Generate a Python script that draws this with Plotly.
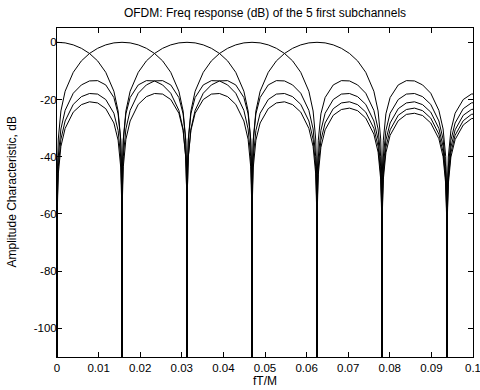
import plotly.graph_objects as go

# Subchannel centre frequencies (fT/M) read from the main-lobe peaks
subchannel_centers = [0.0, 0.015625, 0.03125, 0.046875, 0.0625]
subchannel_spacing = 0.015625

# Response of one subchannel vs. distance from its centre (in subchannel spacings),
# read from the curves (nulls drop below the axis floor)
offset_bins = [
    0, 0.125, 0.25, 0.375, 0.5, 0.625, 0.75, 0.875, 0.94, 0.98, 0.995,
    1.0, 1.005, 1.02, 1.06, 1.125, 1.25, 1.375, 1.5, 1.625, 1.75, 1.875, 1.94, 1.98, 1.995,
    2.0, 2.005, 2.02, 2.06, 2.125, 2.25, 2.375, 2.5, 2.625, 2.75, 2.875, 2.94, 2.98, 2.995,
    3.0, 3.005, 3.02, 3.06, 3.125, 3.25, 3.375, 3.5, 3.625, 3.75, 3.875, 3.94, 3.98, 3.995,
    4.0, 4.005, 4.02, 4.06, 4.125, 4.25, 4.375, 4.5, 4.625, 4.75, 4.875, 4.94, 4.98, 4.995,
    5.0, 5.005, 5.02, 5.06, 5.125, 5.25, 5.375, 5.5, 5.625, 5.75, 5.875, 5.94, 5.98, 5.995,
    6.0, 6.005, 6.02, 6.06, 6.125, 6.25, 6.375, 6.5,
]
response_db = [
    0.0, -0.2, -0.9, -2.1, -3.9, -6.5, -10.5, -17.1, -24.0, -33.8, -46.0,
    -300, -46.1, -34.2, -25.0, -19.3, -14.9, -13.4, -13.5, -14.9, -17.8, -23.8, -30.3, -39.9, -52.0,
    -300, -52.1, -40.1, -30.8, -24.8, -20.0, -18.1, -17.9, -19.0, -21.7, -27.5, -33.9, -43.5, -55.6,
    -300, -55.6, -43.6, -34.2, -28.2, -23.2, -21.2, -20.8, -21.8, -24.4, -30.1, -36.4, -46.0, -58.1,
    -300, -58.1, -46.1, -36.7, -30.6, -25.5, -23.5, -23.0, -23.9, -26.5, -32.1, -38.4, -47.9, -60.0,
    -300, -60.0, -48.0, -38.6, -32.5, -27.4, -25.2, -24.8, -25.6, -28.2, -33.7, -40.0, -49.5, -61.6,
    -300, -61.6, -49.6, -40.1, -34.0, -28.9, -26.7, -26.2,
]

x_tick_vals = [0, 0.01, 0.02, 0.03, 0.04, 0.05, 0.06, 0.07, 0.08, 0.09, 0.1]
x_tick_text = ["0", "0.01", "0.02", "0.03", "0.04", "0.05", "0.06", "0.07", "0.08", "0.09", "0.1"]
y_tick_vals = [-100, -80, -60, -40, -20, 0]
y_tick_text = ["-100", "-80", "-60", "-40", "-20", "0"]

fig = go.Figure()
for c in subchannel_centers:
    xs = [c - d * subchannel_spacing for d in reversed(offset_bins)] + \
         [c + d * subchannel_spacing for d in offset_bins[1:]]
    ys = list(reversed(response_db)) + response_db[1:]
    fig.add_trace(go.Scatter(x=xs, y=ys, mode="lines",
                             line=dict(color="black", width=1),
                             showlegend=False, hoverinfo="skip"))

FAM = "Liberation Sans, Arial, sans-serif"
font = dict(family=FAM, size=12, color="black")
tickfont = dict(family=FAM, size=11.5, color="black")
axis_common = dict(showline=True, linecolor="black", linewidth=1, mirror="ticks",
                   ticks="inside", ticklen=5, tickcolor="black", tickwidth=1,
                   showgrid=False, zeroline=False, tickfont=tickfont, automargin=False,
                   ticklabeloverflow="allow")

W, H = 480, 390
L, R, T, B = 57, 7, 28, 33
pw, ph = W - L - R, H - T - B

fig.update_layout(
    width=W, height=H,
    margin=dict(l=L, r=R, t=T, b=B, autoexpand=False),
    paper_bgcolor="white", plot_bgcolor="white",
    font=font,
    title=dict(text="OFDM: Freq response (dB) of the 5 first subchannels",
               x=0.5, xref="paper", y=1 - 13 / H, yref="container",
               yanchor="middle", font=font),
    xaxis=dict(range=[-1e-9, 0.1 + 1e-9], tickvals=x_tick_vals, ticktext=x_tick_text,
               **axis_common),
    yaxis=dict(range=[-110, 5], tickvals=y_tick_vals, ticktext=y_tick_text,
               ticklabelstandoff=-3, **axis_common),
    annotations=[
        dict(text="fT/M", xref="paper", yref="paper", x=0.5,
             y=-(381 - (H - B)) / ph, xanchor="center", yanchor="middle",
             showarrow=False, font=font),
        dict(text="Amplitude Characteristic, dB", xref="paper", yref="paper",
             x=(11 - L) / pw, y=0.5, xanchor="center", yanchor="middle",
             textangle=-90, showarrow=False, font=font),
    ],
)

# remove the browser's default 8 px body margin so the figure fills the window
fig.write_html("out.html", config={"displayModeBar": False},
               post_script="document.body.style.margin='0px';")
